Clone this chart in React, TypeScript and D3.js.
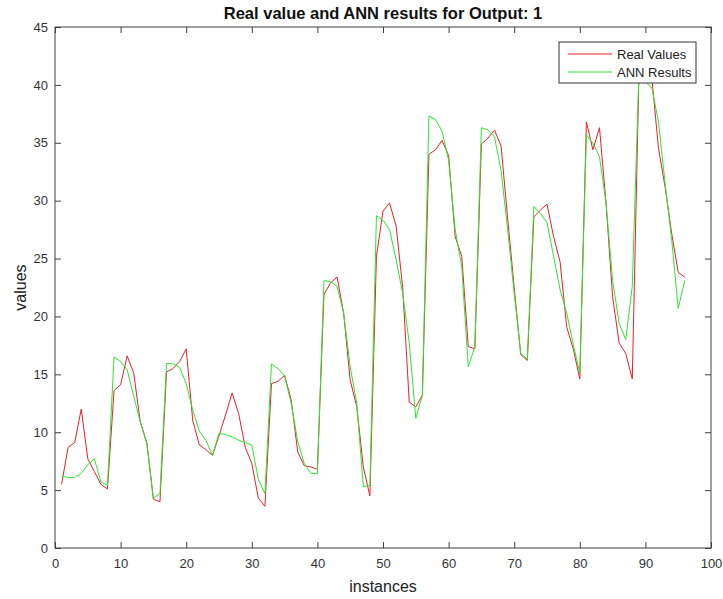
import React, { useEffect, useRef } from "react";
import * as d3 from "d3";

// values, instance 1..96
const realValues = [
  5.5, 8.7, 9.1, 12.0, 7.7, 6.6, 5.5, 5.1, 13.6, 14.1,
  16.6, 15.1, 10.9, 9.1, 4.2, 4.0, 15.2, 15.5, 16.1, 17.2,
  11.0, 8.9, 8.5, 8.0, 9.7, 11.5, 13.4, 11.6, 8.7, 7.3,
  4.3, 3.6, 14.2, 14.4, 14.9, 12.8, 8.3, 7.1, 7.0, 6.8,
  21.9, 22.9, 23.4, 20.3, 14.5, 12.2, 7.0, 4.5, 25.2, 29.1,
  29.8, 27.8, 22.5, 12.6, 12.2, 13.2, 34.0, 34.4, 35.2, 33.9,
  26.9, 25.2, 17.4, 17.2, 34.9, 35.4, 36.1, 34.7, 28.5, 22.5,
  16.7, 16.2, 28.6, 29.2, 29.7, 26.9, 24.7, 19.1, 17.2, 14.6,
  36.8, 34.4, 36.3, 29.8, 21.7, 17.7, 16.8, 14.6, 40.5, 41.0,
  40.5, 34.5, 31.2, 27.2, 23.8, 23.4,
];

const annResults = [
  6.2, 6.1, 6.1, 6.45, 7.2, 7.7, 5.7, 5.4, 16.5, 16.1,
  15.4, 13.1, 10.9, 9.0, 4.3, 4.7, 15.95, 15.9, 15.6, 14.2,
  11.9, 10.1, 9.3, 8.0, 9.9, 9.8, 9.6, 9.3, 9.1, 8.9,
  5.9, 4.7, 15.9, 15.5, 14.85, 12.5, 9.2, 7.3, 6.45, 6.4,
  23.1, 23.0, 22.6, 20.3, 15.65, 12.5, 5.3, 5.4, 28.7, 28.3,
  27.5, 24.9, 22.0, 17.7, 11.2, 13.2, 37.3, 37.0, 36.0, 33.5,
  27.5, 24.3, 15.65, 17.4, 36.3, 36.1, 35.5, 32.6, 27.5, 22.0,
  16.8, 16.3, 29.5, 28.9, 28.1, 25.2, 22.3, 20.3, 17.6, 15.1,
  35.7, 34.95, 33.8, 29.8, 23.1, 19.4, 18.0, 22.6, 40.8, 40.3,
  39.7, 36.8, 31.5, 26.7, 20.7, 23.1,
];

const xTicks = [0, 10, 20, 30, 40, 50, 60, 70, 80, 90, 100];
const yTicks = [0, 5, 10, 15, 20, 25, 30, 35, 40, 45];
const seriesNames = ["Real Values", "ANN Results"];

const FONT = "'Liberation Sans', Arial, Helvetica, sans-serif";
const AXIS_COLOR = "#404040";

const App = () => {
  const ref = useRef<SVGSVGElement>(null);

  useEffect(() => {
    const svg = d3.select(ref.current);
    svg.selectAll("*").remove();

    const margin = { top: 27, right: 12, bottom: 51, left: 55 };
    const width = 723 - margin.left - margin.right;
    const height = 599 - margin.top - margin.bottom;

    const g = svg
      .append("g")
      .attr("transform", `translate(${margin.left}, ${margin.top})`);

    const x = d3.scaleLinear().domain([0, 100]).range([0, width]);
    const y = d3.scaleLinear().domain([0, 45]).range([height, 0]);

    g.append("rect")
      .attr("width", width)
      .attr("height", height)
      .attr("fill", "#fff");

    const styleAxis = (sel: any) => {
      sel.select(".domain").remove();
      sel.selectAll("line").attr("stroke", AXIS_COLOR);
      sel.selectAll("text")
        .attr("fill", "#333")
        .style("font-family", FONT)
        .style("font-size", "13px");
    };

    g.append("g")
      .attr("transform", `translate(0, ${height})`)
      .call(d3.axisBottom(x).tickValues(xTicks).tickSizeInner(-6).tickSizeOuter(0).tickPadding(11))
      .call(styleAxis);
    g.append("g")
      .call(d3.axisTop(x).tickValues(xTicks).tickSizeInner(-6).tickSizeOuter(0).tickFormat(() => ""))
      .call(styleAxis);
    g.append("g")
      .call(d3.axisLeft(y).tickValues(yTicks).tickSizeInner(-6).tickSizeOuter(0).tickPadding(7))
      .call(styleAxis);
    g.append("g")
      .attr("transform", `translate(${width}, 0)`)
      .call(d3.axisRight(y).tickValues(yTicks).tickSizeInner(-6).tickSizeOuter(0).tickFormat(() => ""))
      .call(styleAxis);

    g.append("rect")
      .attr("width", width)
      .attr("height", height)
      .attr("fill", "none")
      .attr("stroke", AXIS_COLOR)
      .attr("stroke-width", 1);

    const line = d3
      .line<number>()
      .x((d, i) => x(i + 1))
      .y((d) => y(d));

    g.append("path")
      .datum(realValues)
      .attr("fill", "none")
      .attr("stroke", "#e8202a")
      .attr("stroke-width", 1)
      .attr("d", line);

    g.append("path")
      .datum(annResults)
      .attr("fill", "none")
      .attr("stroke", "#2ee62e")
      .attr("stroke-width", 1)
      .attr("d", line);

    // title and axis labels
    svg.append("text")
      .attr("x", margin.left + width / 2)
      .attr("y", 19)
      .attr("text-anchor", "middle")
      .style("font-family", FONT)
      .style("font-size", "16.5px")
      .style("font-weight", "bold")
      .attr("fill", "#111")
      .text("Real value and ANN results for Output: 1");

    svg.append("text")
      .attr("x", margin.left + width / 2)
      .attr("y", 592)
      .attr("text-anchor", "middle")
      .style("font-family", FONT)
      .style("font-size", "16px")
      .attr("fill", "#222")
      .text("instances");

    svg.append("text")
      .attr("transform", `translate(26, ${margin.top + height / 2}) rotate(-90)`)
      .attr("text-anchor", "middle")
      .style("font-family", FONT)
      .style("font-size", "16px")
      .attr("fill", "#222")
      .text("values");

    // legend
    const legend = svg.append("g").attr("transform", "translate(559, 42)");
    legend.append("rect")
      .attr("width", 137)
      .attr("height", 41)
      .attr("fill", "#fff")
      .attr("stroke", "#333")
      .attr("stroke-width", 1);
    const colors = ["#e8202a", "#2ee62e"];
    seriesNames.forEach((name, i) => {
      const ly = 12 + i * 18;
      legend.append("line")
        .attr("x1", 9)
        .attr("x2", 53)
        .attr("y1", ly)
        .attr("y2", ly)
        .attr("stroke", colors[i])
        .attr("stroke-width", 1);
      legend.append("text")
        .attr("x", 58)
        .attr("y", ly + 4.5)
        .style("font-family", FONT)
        .style("font-size", "13px")
        .attr("fill", "#222")
        .text(name);
    });
  }, []);

  return (
    <div style={{ position: "absolute", left: 0, top: 0, width: 723, height: 599, background: "#fff" }}>
      <svg ref={ref} width={723} height={599} style={{ display: "block" }} />
    </div>
  );
};

export default App;
